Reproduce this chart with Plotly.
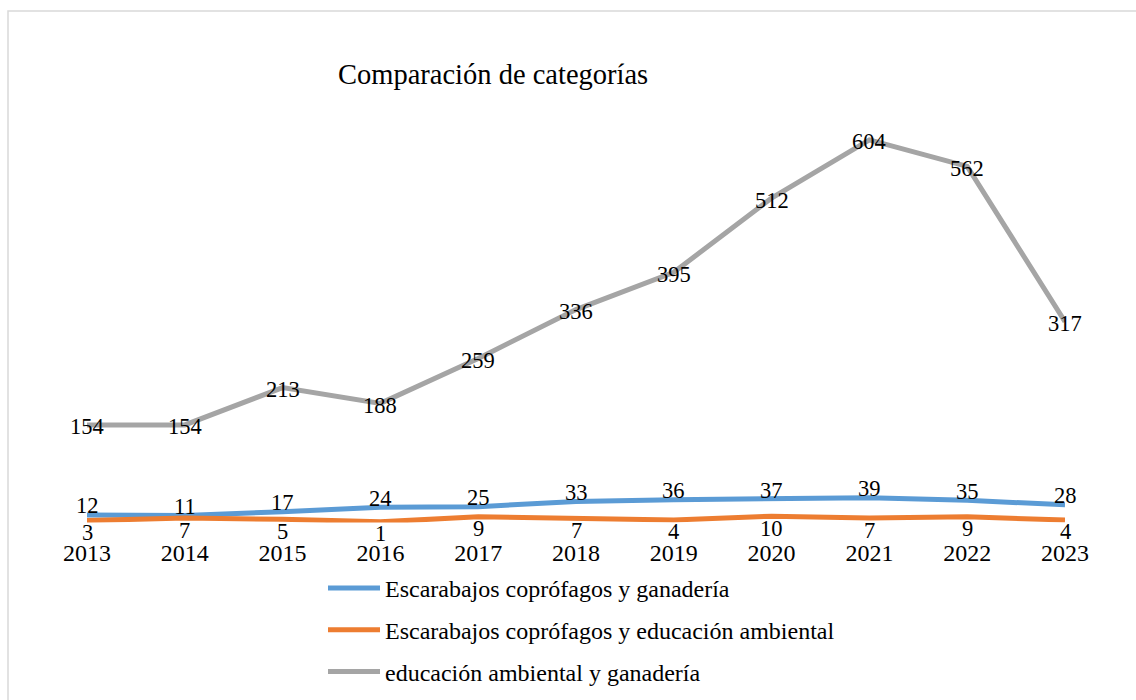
import plotly.graph_objects as go

years = [2013, 2014, 2015, 2016, 2017, 2018, 2019, 2020, 2021, 2022, 2023]
ganaderia = [12, 11, 17, 24, 25, 33, 36, 37, 39, 35, 28]
educacion = [3, 7, 5, 1, 9, 7, 4, 10, 7, 9, 4]
edu_gan = [154, 154, 213, 188, 259, 336, 395, 512, 604, 562, 317]

names = ["Escarabajos coprófagos y ganadería",
         "Escarabajos coprófagos y educación ambiental",
         "educación ambiental y ganadería"]
colors = ["#5B9BD5", "#ED7D31", "#A5A5A5"]
title_text = "Comparación de categorías"

W, H = 1136, 700
FONT = "Times New Roman, Liberation Serif, serif"

def px(x):
    return x / W

def py(y):
    return 1 - y / H

fig = go.Figure()
series = [ganaderia, educacion, edu_gan]
label_shift = [9, -12, -2]
annotations = []
for i, (vals, name, col, shift) in enumerate(zip(series, names, colors, label_shift)):
    fig.add_trace(go.Scatter(
        x=years, y=vals, name=name, mode="lines",
        line=dict(color=col, width=5),
        legendgroup=f"g{i}", hoverinfo="skip",
    ))
    for xv, yv in zip(years, vals):
        annotations.append(dict(
            x=xv, y=yv, xref="x", yref="y", text=str(yv), showarrow=False,
            xanchor="center", yanchor="middle", yshift=shift,
            font=dict(family=FONT, size=22.5, color="#000000"),
        ))

annotations.append(dict(
    text=title_text, x=px(493), y=py(75), xref="paper", yref="paper",
    xanchor="center", yanchor="middle", showarrow=False,
    font=dict(family=FONT, size=28.5, color="#000000"),
))

fig.update_layout(
    width=W, height=H,
    margin=dict(l=0, r=0, t=0, b=0, pad=0, autoexpand=False),
    paper_bgcolor="white", plot_bgcolor="white",
    font=dict(family=FONT, color="#000000"),
    showlegend=True,
    legend=dict(
        x=px(323), y=py(566), xanchor="left", yanchor="top",
        orientation="v", traceorder="grouped", tracegroupgap=7.5,
        itemwidth=52,
        font=dict(family=FONT, size=24, color="#000000"),
        bgcolor="rgba(0,0,0,0)",
    ),
    xaxis=dict(
        domain=[px(87), px(1065)], range=[2013, 2023], automargin=False,
        tickvals=years, ticktext=[str(y) for y in years],
        showgrid=False, zeroline=False, showline=False,
        ticks="outside", ticklen=9, tickcolor="rgba(0,0,0,0)",
        tickfont=dict(family=FONT, size=24, color="#000000"),
    ),
    yaxis=dict(
        domain=[py(522.5), py(79)], range=[0, 700], automargin=False,
        visible=False, showgrid=False, zeroline=False,
    ),
    annotations=annotations,
    shapes=[dict(
        type="rect", xref="paper", yref="paper",
        x0=px(8), y0=-0.05, x1=1.05, y1=py(11),
        line=dict(color="#D9D9D9", width=1.5),
    )],
)

fig.write_html("out.html", config={"displayModeBar": False},
               post_script="document.body.style.margin='0';document.body.style.overflow='hidden';")
